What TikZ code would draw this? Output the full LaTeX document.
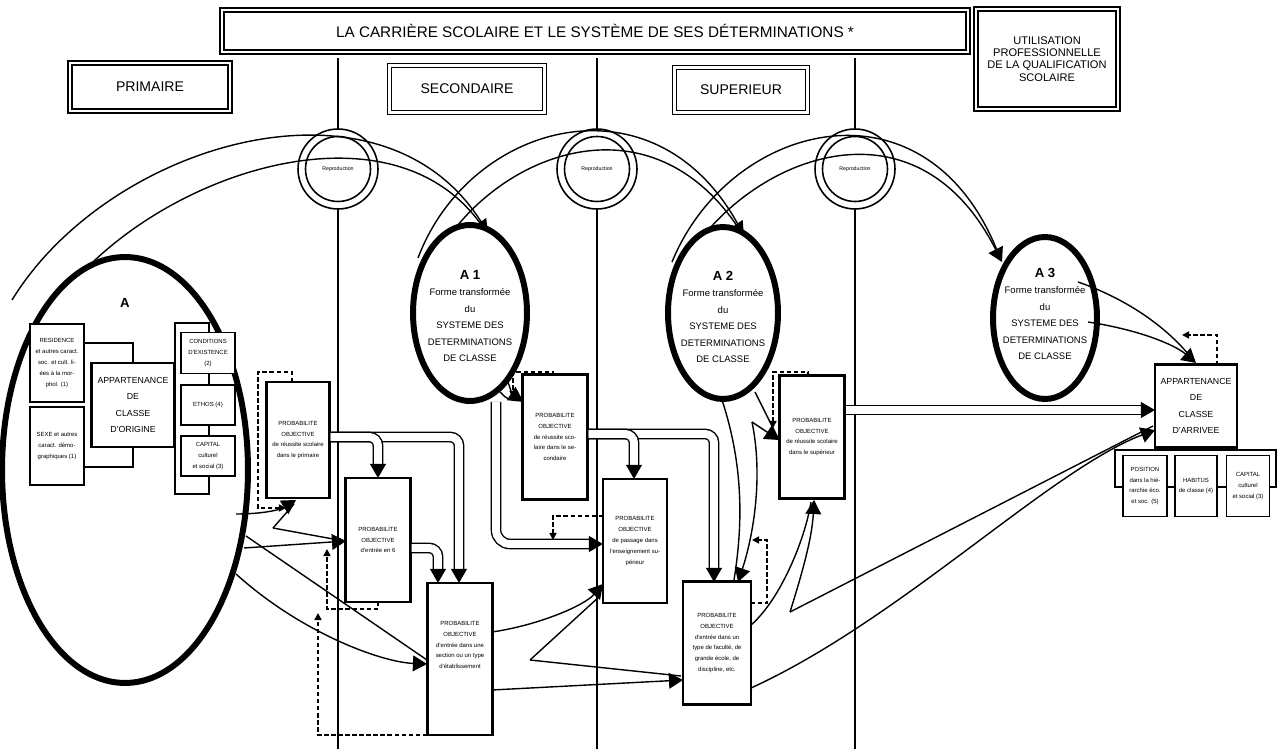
\documentclass[tikz,border=0pt]{standalone}
\usepackage{fontspec}
\setmainfont{Liberation Sans}
\usetikzlibrary{arrows.meta,shapes.geometric,calc}
\newcommand{\fT}{\fontsize{8.7}{10}\selectfont}
\newcommand{\fH}{\fontsize{8}{9.5}\selectfont}
\newcommand{\fU}{\fontsize{6.3}{7}\selectfont}
\newcommand{\fE}{\fontsize{5.4}{9.4}\selectfont}
\newcommand{\fEb}{\fontsize{7.5}{9.4}\selectfont\bfseries}
\newcommand{\fB}{\fontsize{5}{9.3}\selectfont}
\newcommand{\fS}{\fontsize{3.4}{6.2}\selectfont}
\newcommand{\fC}{\fontsize{3}{4}\selectfont}
\begin{document}
\begin{tikzpicture}[x=0.02cm,y=-0.02cm,
  hdr/.style={draw, double, double distance=1.6pt, line width=0.8pt, fill=white, align=center, font=\fH, inner sep=0pt},
  pbox/.style={draw, line width=1.3pt, fill=white, align=center, font=\fS, inner sep=0pt},
  sbox/.style={draw, line width=1pt, fill=white, align=center, font=\fS, inner sep=0pt},
  abox/.style={draw, line width=1.3pt, fill=white, align=center, font=\fB, inner sep=0pt},
  ptext/.style={align=center, font=\fS, inner sep=0pt},
  bigell/.style={draw, ellipse, line width=3.4pt, fill=white, inner sep=0pt},
  ring/.style={draw, circle, line width=0.9pt, fill=white, inner sep=0pt},
  band/.style={line width=0.8pt, double=white, double distance=4.5pt},
  edge/.style={line width=0.8pt},
  dashline/.style={line width=0.9pt, dash pattern=on 2.5pt off 1.5pt},
  tip/.style={-{Triangle[length=8pt,width=9pt]}},
  stip/.style={-{Triangle[length=4pt,width=4pt]}},
  vline/.style={line width=1pt}
]
\useasboundingbox (0,0) rectangle (1278,749);
\fill[white] (0,0) rectangle (1278,749);

% vertical separators
\coordinate (v1t) at (338,58); \coordinate (v1b) at (338,749);
\coordinate (v2t) at (597,58); \coordinate (v2b) at (597,749);
\coordinate (v3t) at (855,58); \coordinate (v3b) at (855,749);
\draw[vline] (v1t) -- (v1b);
\draw[vline] (v2t) -- (v2b);
\draw[vline] (v3t) -- (v3b);

% headers
\node[hdr, font=\fT, minimum width=14.92cm, minimum height=0.84cm] (title) at (595,31) {LA CARRIÈRE SCOLAIRE ET LE SYSTÈME DE SES DÉTERMINATIONS *};
\node[hdr, minimum width=3.2cm, minimum height=0.96cm] (prim) at (150,87) {PRIMAIRE};
\node[hdr, minimum width=3.1cm, minimum height=0.94cm] (sec) at (467,89) {SECONDAIRE};
\node[hdr, minimum width=2.66cm, minimum height=0.9cm] (sup) at (741,90) {SUPERIEUR};
\node[hdr, font=\fU, minimum width=2.84cm, minimum height=2.0cm] (util) at (1047,59) {UTILISATION\\PROFESSIONNELLE\\DE LA QUALIFICATION\\SCOLAIRE};

% reproduction rings
\foreach \n/\x in {r1/338, r2/597, r3/855} {
  \node[ring, minimum size=1.6cm] (\n) at (\x,169) {};
  \node[ring, minimum size=1.3cm, font=\fC] (\n i) at (\x,169) {Reproduction};
}

% big arcs
\draw[edge] (12,300) .. controls (110,140) and (390,60) .. (486,230);
\draw[edge,tip] (72,284) .. controls (170,170) and (390,100) .. (488,234);
\draw[edge] (418,258) .. controls (470,120) and (660,70) .. (742,232);
\draw[edge,tip] (448,238) .. controls (510,150) and (650,100) .. (744,236);
\draw[edge] (672,262) .. controls (730,120) and (930,70) .. (1000,258);
\draw[edge,tip] (700,240) .. controls (770,150) and (920,100) .. (1002,262);

% ellipse A
\node[bigell, minimum width=4.92cm, minimum height=8.52cm] (A) at (125,470) {};
\node[font=\fEb] (Alab) at (125,303) {A};
\draw[line width=1pt] (84,343) -| (133,363);
\draw[line width=1pt] (133,447) |- (84,467);
\draw[line width=1pt] (175,323) rectangle (209,494);
\node[sbox, minimum width=1.08cm, minimum height=1.56cm] (res) at (57,363) {RESIDENCE\\et autres caract.\\soc. et cult. li-\\ées à la mor-\\phol. (1)};
\node[sbox, minimum width=1.08cm, minimum height=1.56cm] (sexe) at (57,446) {SEXE et autres\\caract. démo-\\graphiques (1)};
\node[abox, minimum width=1.66cm, minimum height=1.68cm] (orig) at (133,405) {APPARTENANCE\\DE\\CLASSE\\D'ORIGINE};
\node[sbox, minimum width=1.08cm, minimum height=0.82cm] (cond) at (208,353) {CONDITIONS\\D'EXISTENCE\\(2)};
\node[sbox, minimum width=1.08cm, minimum height=0.8cm] (ethos) at (208,405) {ETHOS (4)};
\node[sbox, minimum width=1.08cm, minimum height=0.8cm] (cap) at (208,456) {CAPITAL\\culturel\\et social (3)};

% ellipses A1 A2 A3
\node[bigell, minimum width=2.28cm, minimum height=3.52cm] (A1) at (470,313) {};
\node[align=center, font=\fE] (A1t) at (470,316) {{\fEb A 1}\\Forme transformée\\du\\SYSTEME DES\\DETERMINATIONS\\DE CLASSE};
\node[bigell, minimum width=2.2cm, minimum height=3.44cm] (A2) at (723,313) {};
\node[align=center, font=\fE] (A2t) at (723,317) {{\fEb A 2}\\Forme transformée\\du\\SYSTEME DES\\DETERMINATIONS\\DE CLASSE};
\node[bigell, minimum width=2.08cm, minimum height=3.24cm] (A3) at (1045,318) {};
\node[align=center, font=\fE] (A3t) at (1045,314) {{\fEb A 3}\\Forme transformée\\du\\SYSTEME DES\\DETERMINATIONS\\DE CLASSE};

% probability boxes
\node[pbox, minimum width=1.26cm, minimum height=2.32cm] (P1) at (298,440) {PROBABILITE\\OBJECTIVE\\de réussite scolaire\\dans le primaire};
\node[pbox, minimum width=1.3cm, minimum height=2.48cm] (P2) at (378,540) {PROBABILITE\\OBJECTIVE\\d'entrée en 6};
\node[pbox, minimum width=1.3cm, minimum height=3.04cm] (P3) at (460,659) {};
\node[ptext] (P3t) at (460,645) {PROBABILITE\\OBJECTIVE\\d'entrée dans une\\section ou un type\\d'établissement};
\node[pbox, minimum width=1.3cm, minimum height=2.5cm] (P4) at (555,437) {PROBABILITE\\OBJECTIVE\\de réussite sco-\\laire dans le se-\\condaire};
\node[pbox, minimum width=1.28cm, minimum height=2.48cm] (P5) at (635,541) {PROBABILITE\\OBJECTIVE\\de passage dans\\l'enseignement su-\\périeur};
\node[pbox, minimum width=1.3cm, minimum height=2.46cm] (P6) at (812,437) {PROBABILITE\\OBJECTIVE\\de réussite scolaire\\dans le supérieur};
\node[pbox, minimum width=1.36cm, minimum height=2.46cm] (P7) at (717,643) {PROBABILITE\\OBJECTIVE\\d'entrée dans un\\type de faculté, de\\grande école, de\\discipline, etc.};

% arrival
\draw[line width=1pt] (1115,450) rectangle (1276,487);
\node[abox, minimum width=1.64cm, minimum height=1.66cm] (arr) at (1196,406) {APPARTENANCE\\DE\\CLASSE\\D'ARRIVEE};
\node[sbox, minimum width=0.88cm, minimum height=1.22cm] (pos) at (1145,486) {POSITION\\dans la hié-\\rarchie éco.\\et soc. (5)};
\node[sbox, minimum width=0.84cm, minimum height=1.22cm] (hab) at (1196,486) {HABITUS\\de classe (4)};
\node[sbox, minimum width=0.86cm, minimum height=1.22cm] (cap2) at (1248,486) {CAPITAL\\culturel\\et social (3)};

% ---- primary connectors
\draw[edge,tip] (236,514) .. controls (262,514) and (280,510) .. (296,500);
\draw[edge] (273,528) -- (294,504);
\draw[edge] (273,528) -- (344,541);
\draw[edge,tip] (244,548) -- (346,541);
\draw[edge] (246,536) -- (427,660);
\draw[edge,tip] (236,574) .. controls (300,632) and (380,662) .. (427,664);
\draw[band,tip,rounded corners=5pt] (P1.east|-0,437) -| (459,583);
\draw[band,tip,rounded corners=5pt] (P1.east|-0,437) -| (378,478);
\draw[band,tip,rounded corners=5pt] (P2.east|-0,548) -| (438,583);
\draw[dashline,stip] (292,382) -- (292,372) -- (258,372) -- (258,508) -- (286,508);
\draw[dashline,stip] (378,602) -- (378,609) -- (327,609) -- (327,549);
\draw[dashline,stip] (427,735) -- (318,735) -- (318,613);

% ---- secondary connectors
\draw[edge] (500,392) .. controls (508,400) .. (522,401);
\draw[edge,tip] (508,382) .. controls (512,394) .. (523,401);
\draw[band,tip,rounded corners=8pt] (496,402) |- (603,544);
\draw[band,tip,rounded corners=5pt] (P4.east|-0,434) -| (714,582);
\draw[band,tip,rounded corners=5pt] (P4.east|-0,434) -| (634,479);
\draw[dashline,stip] (553,375) -- (553,372) -- (513,372) -- (513,398);
\draw[dashline,stip] (603,516) -- (553,516) -- (553,540);
\draw[edge,tip] (492,632) .. controls (540,625) and (585,605) .. (603,584);
\draw[edge] (600,596) -- (530,660);
\draw[edge] (530,660) -- (681,676);
\draw[edge,tip] (492,690) -- (683,680);

% ---- superior connectors
\draw[edge] (755,392) -- (778,438);
\draw[edge,tip] (752,422) -- (779,440);
\draw[edge] (722,400) .. controls (745,470) and (742,530) .. (734,580);
\draw[edge,tip] (752,422) .. controls (764,480) and (752,540) .. (738,582);
\draw[dashline,stip] (808,376) -- (808,372) -- (773,372) -- (773,428);
\draw[dashline,stip] (751,603) -- (767,603) -- (767,540) -- (752,540);
\draw[edge] (751,625) .. controls (780,600) and (805,540) .. (811,502);
\draw[edge,tip] (790,612) .. controls (800,580) and (812,540) .. (814,500);
\draw[edge] (790,612) -- (1153,426);
\draw[edge,tip] (751,688) .. controls (900,620) and (1050,470) .. (1155,430);
\draw[band,tip] (P6.east|-0,410) -- (1155,410);
\draw[edge] (1078,282) .. controls (1130,300) and (1170,330) .. (1193,360);
\draw[edge,tip] (1088,322) .. controls (1140,330) and (1175,345) .. (1196,363);
\draw[dashline,stip] (1217,365) -- (1217,335) -- (1182,335);
\end{tikzpicture}
\end{document}
